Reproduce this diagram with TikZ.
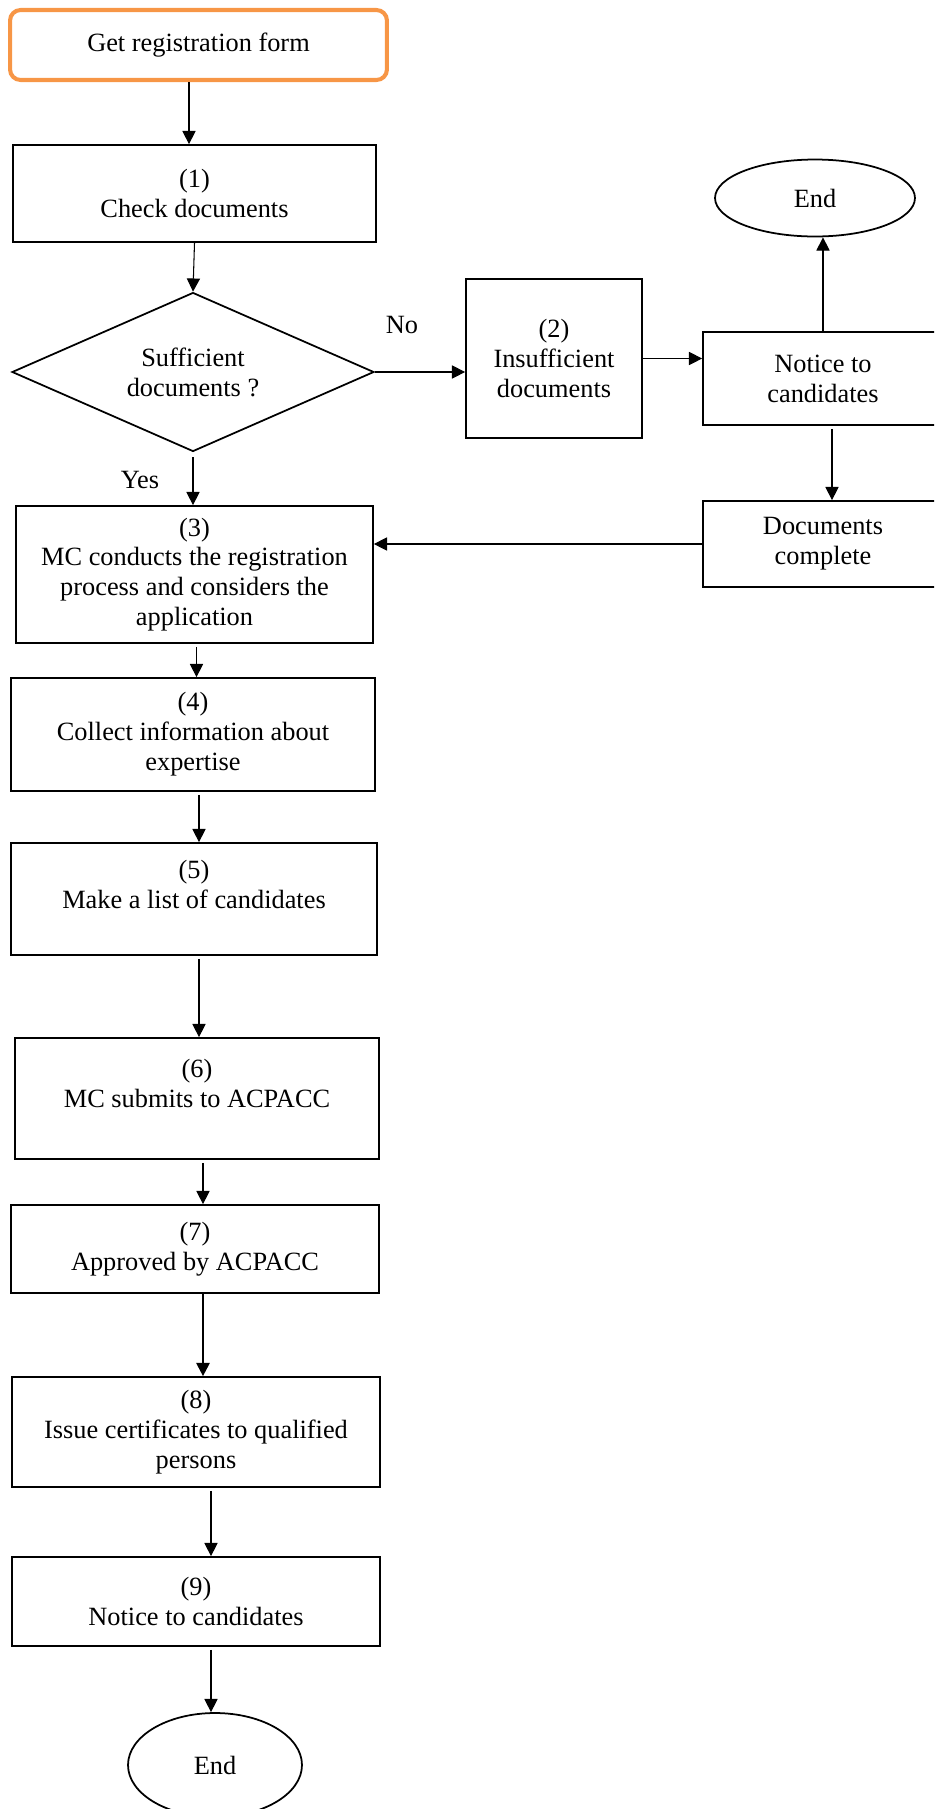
\documentclass[tikz,border=0pt]{standalone}
\usepackage{fontspec}
\setmainfont{Liberation Serif}
\usetikzlibrary{shapes.geometric, arrows.meta, positioning, calc}
\definecolor{formorange}{HTML}{F79646}

\begin{document}
\begin{tikzpicture}[x=0.02cm, y=-0.02cm,
  every node/.style={font=\fontsize{15}{17}\selectfont, align=center},
  stepbox/.style={draw, line width=1pt, inner sep=0pt},
  endnode/.style={draw, ellipse, line width=1pt, inner sep=0pt},
  arr/.style={-{Triangle[length=7.5pt,width=7.5pt]}, line width=0.6pt}]
\useasboundingbox (0,0) rectangle (934,1809);
\clip (0,0) rectangle (934,1809);
% Start
\node[draw=formorange, line width=2.3pt, rounded corners=6pt, minimum width=7.54cm, minimum height=1.4cm] (start) at (198.5,45) {Get registration form};
\node[stepbox, minimum width=7.26cm, minimum height=1.94cm] (s1) at (194.5,193.5) {(1)\\Check documents};
\node[draw, diamond, aspect=2.28, line width=1pt, inner sep=0pt, minimum width=7.24cm, minimum height=3.18cm] (dec) at (193,372) {Sufficient\\documents ?};
\node (no) at (402,325) {No};
\node (yes) at (140,480) {Yes};
% Insufficient branch
\node[stepbox, minimum width=3.52cm, minimum height=3.18cm] (s2) at (554,358.5) {(2)\\Insufficient\\documents};
\node[stepbox, minimum width=4.8cm, minimum height=1.86cm] (notice) at (823,378.5) {Notice to\\candidates};
\node[endnode, minimum width=4cm, minimum height=1.54cm] (endA) at (815,198) {End};
\node[stepbox, minimum width=4.8cm, minimum height=1.72cm] (docs) at (823,544) {Documents\\complete};
% Main steps
\node[stepbox, minimum width=7.14cm, minimum height=2.74cm] (s3) at (194.5,574.5) {(3)\\MC conducts the registration\\process and considers the\\application};
\node[stepbox, minimum width=7.28cm, minimum height=2.26cm] (s4) at (193,734.5) {(4)\\Collect information about\\expertise};
\node[stepbox, minimum width=7.32cm, minimum height=2.24cm] (s5) at (194,899) {(5)\\Make a list of candidates\\\mbox{}};
\node[stepbox, minimum width=7.28cm, minimum height=2.42cm] (s6) at (197,1098.5) {(6)\\MC submits to ACPACC\\\mbox{}};
\node[stepbox, minimum width=7.36cm, minimum height=1.76cm] (s7) at (195,1249) {(7)\\Approved by ACPACC};
\node[stepbox, minimum width=7.36cm, minimum height=2.2cm] (s8) at (196,1432) {(8)\\Issue certificates to qualified\\persons};
\node[stepbox, minimum width=7.36cm, minimum height=1.78cm] (s9) at (196,1601.5) {(9)\\Notice to candidates};
\node[endnode, minimum width=3.48cm, minimum height=2.08cm] (endB) at (215,1765) {End};

% Connectors
\draw[arr] ($(start.south)+(-9.5,0)$) -- ($(start.south |- s1.north)+(-9.5,0)$);
\draw[arr] (s1.south) -- (dec.north);
\draw[arr] (dec.east) -- (dec.east -| s2.west);
\draw[arr] ($(dec.south)+(0,5)$) -- (dec.south |- s3.north);
\draw[arr] (s2.east) -- (s2.east -| notice.west);
\draw[arr] (notice.north) -- (notice.north |- endA.south);
\draw[arr] ($(notice.south)+(9,3)$) -- ($(notice.south |- docs.north)+(9,0)$);
\draw[arr] (docs.west) -- (docs.west -| s3.east);
\foreach \a/\b/\dx in {s3/s4/2, s4/s5/6, s5/s6/5, s6/s7/6, s8/s9/15, s9/endB/15}
  \draw[arr] ($(\a.south)+(\dx,3)$) -- ($(\a.south |- \b.north)+(\dx,0)$);
\draw[arr, line width=1.2pt] ($(s7.south)+(8,0)$) -- ($(s7.south |- s8.north)+(8,0)$);
\end{tikzpicture}
\end{document}
